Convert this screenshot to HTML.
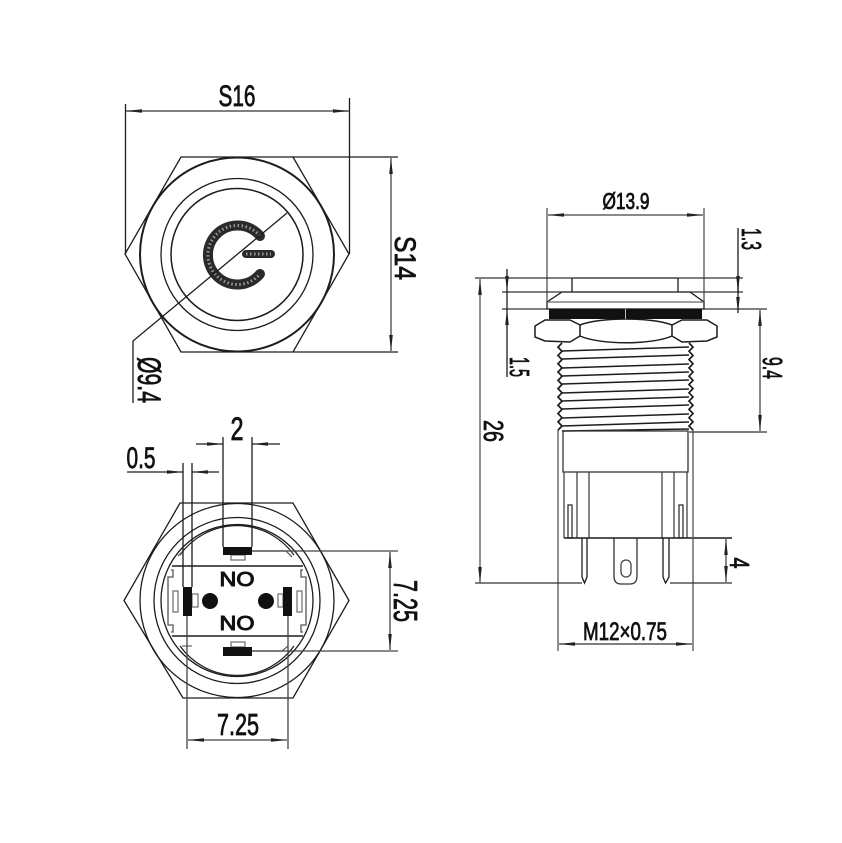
<!DOCTYPE html>
<html>
<head>
<meta charset="utf-8">
<style>
html,body{margin:0;padding:0;background:#fff;width:842px;height:843px;overflow:hidden}
svg{display:block;filter:blur(.35px)}
text{font-family:"Liberation Sans Narrow","Liberation Sans",sans-serif;fill:#111;stroke:#111;stroke-width:.8}
</style>
</head>
<body>
<svg width="842" height="843" viewBox="0 0 842 843" xmlns="http://www.w3.org/2000/svg">
<defs>
<marker id="a" viewBox="0 0 16 4" refX="16" refY="2" markerWidth="16" markerHeight="4" markerUnits="userSpaceOnUse" orient="auto-start-reverse"><path d="M0,0.2L16,2L0,3.8z" fill="#222"/></marker>
</defs>
<rect width="842" height="843" fill="#fff"/>

<g fill="none" stroke="#1c1c1c" stroke-width="1.3">
<!-- TOP VIEW -->
<path d="M125,254L181,157H293L349,254L293,352H181Z"/>
<circle cx="237" cy="254.5" r="97" stroke-width="2"/>
<circle cx="237" cy="254.5" r="76"/>
<circle cx="237" cy="254.5" r="66" stroke-width="1.5"/>
<path d="M260,236A29.5,29.5 0 1 0 260,274" stroke="#2a2a2a" stroke-width="10" stroke-linecap="round"/>
<path d="M260,236A29.500,29.500 0 1 0 260,274" stroke="#999" stroke-width="3" stroke-dasharray="1.500 2.500"/>
<path d="M246,254H271" stroke="#2a2a2a" stroke-width="8" stroke-linecap="round"/>
<path d="M246,254H271" stroke="#999" stroke-width="3" stroke-dasharray="1.500 2.500"/>
<path d="M287,213L133,341V403"/>
<path d="M125.500,104V254M349.500,98V254"/>
<path d="M126,111H349" stroke="#555" stroke-width="1.4" marker-start="url(#a)" marker-end="url(#a)"/>
<path d="M293,157H398M293,352H398"/>
<path d="M391,158V351" stroke="#444" marker-start="url(#a)" marker-end="url(#a)"/>

<!-- BOTTOM VIEW -->
<path d="M124,600.500L180,503H293L349,600.500L293,698H183Z"/>
<circle cx="237" cy="600.500" r="97"/>
<circle cx="237" cy="600.500" r="83"/>
<circle cx="237" cy="600.500" r="76"/>
<path d="M180,555A70,70 0 0 1 294,555M180,646A70,70 0 0 0 294,646" stroke-width="1.2"/>
<path d="M172,566H303M172,636H303" stroke-width="1.5"/>
<path d="M171,570H173V577H168V625H173V632H171M303,570H301V577H306V625H301V632H303" stroke="#555"/>
<rect x="173" y="591" width="5" height="21" stroke="#777"/>
<rect x="297" y="591" width="5" height="21" stroke="#777"/>
<rect x="192" y="594" width="6" height="13" stroke="#777"/>
<rect x="278" y="594" width="5" height="13" stroke="#777"/>
<rect x="231" y="555" width="14" height="5" stroke="#777"/>
<rect x="231" y="642" width="14" height="5" stroke="#777"/>
<path d="M252,551H286L292,557M252,651H282L288,646M182,646H192M178,556L183,551" stroke="#666"/>
<path d="M223,437V547M252,437V547"/>
<path d="M196,444H223" marker-end="url(#a)"/>
<path d="M280,444H252" marker-end="url(#a)"/>
<path d="M183,463V587M192,463V587"/>
<path d="M127,472H183" marker-end="url(#a)"/>
<path d="M219,472H192" marker-end="url(#a)"/>
<path d="M252,551H398M252,651H398" stroke="#444"/>
<path d="M390,552V650" stroke="#444" marker-start="url(#a)" marker-end="url(#a)"/>
<path d="M187,616V749M288,616V749" stroke="#444"/>
<path d="M188,740H287" stroke="#444" marker-start="url(#a)" marker-end="url(#a)"/>

<!-- SIDE VIEW -->
<path d="M572,292V279Q572,278 574,278H676Q678,278 678,279V292"/>
<path d="M562,292H690L704,302V309H547V302Z"/>
<path d="M547,302H704" stroke="#666"/>
<path d="M580,325L570,320H545L535,326V337L545,341L570,342L580,336Z" stroke-width="1.500"/>
<path d="M672,325L682,320H707L717,326V337L707,341L682,342L672,336Z" stroke-width="1.500"/>
<path d="M580,325C600,317 652,317 672,325M580,336C600,345 652,345 672,336" stroke-width="1.500"/>
<path d="M562,343l-4,4.150l4,4.150l-4,4.150l4,4.150l-4,4.150l4,4.150l-4,4.150l4,4.150l-4,4.150l4,4.150l-4,4.150l4,4.150l-4,4.150l4,4.150l-4,4.150l4,4.150l-4,4.150l4,4.150l-4,4.150l4,4.150l-4,4.150" stroke-width="1.700"/>
<path d="M689,343l4,4.150l-4,4.150l4,4.150l-4,4.150l4,4.150l-4,4.150l4,4.150l-4,4.150l4,4.150l-4,4.150l4,4.150l-4,4.150l4,4.150l-4,4.150l4,4.150l-4,4.150l4,4.150l-4,4.150l4,4.150l-4,4.150l4,4.150" stroke-width="1.700"/>
<path d="M562,351L689,347M562,359L689,355M562,368L689,364M562,376L689,372M562,384L689,380M562,393L689,389M562,401L689,397M562,409L689,405M562,418L689,414M562,426L689,422M562,431L689,429" stroke-width="1.400"/>
<path d="M563,431H688V472H563Z" stroke="#333"/>
<path d="M564,472V538M577,472V538M589,472V538M662,472V538M674,472V538M687,472V538" stroke="#444"/>
<rect x="568" y="505" width="4" height="33" stroke="#333"/>
<rect x="679" y="505" width="4" height="33" stroke="#333"/>
<path d="M564,538H732" stroke-width="1.400"/>
<path d="M582,538V577L584.500,583L587,577V538M663,538V577L665.500,583L669,577V538"/>
<path d="M614,538V576Q614,584 621,584H630Q637,584 637,576V538" stroke="#333"/>
<rect x="621" y="560" width="10" height="17" rx="5" stroke="#444"/>
<path d="M558,430V651M693,430V651" stroke="#555" stroke-width="1.300"/>
<path d="M559,644H692" stroke="#333" marker-start="url(#a)" marker-end="url(#a)"/>
<path d="M547,208V302M704,208V302" stroke="#555"/>
<path d="M548,215H703" stroke="#444" marker-start="url(#a)" marker-end="url(#a)"/>
<path d="M475,278H572M678,278H743M502,292H743M502,309H767M689,432H767" stroke="#333"/>
<path d="M475,583H582M670,583H732" stroke="#333"/>
<path d="M480,279V583" stroke="#555" marker-start="url(#a)" marker-end="url(#a)"/>
<path d="M507,269V292" marker-end="url(#a)"/>
<path d="M507,377V309" marker-end="url(#a)"/>
<path d="M507,292V309"/>
<path d="M738,228V292" marker-end="url(#a)"/>
<path d="M738,313V278" marker-start="url(#a)"/>
<path d="M760,310V431" stroke="#444" marker-start="url(#a)" marker-end="url(#a)"/>
<path d="M726,539V582" stroke="#444" marker-start="url(#a)" marker-end="url(#a)"/>
</g>

<!-- solid fills -->
<g fill="#111">
<rect x="223" y="547" width="29" height="8"/>
<rect x="223" y="647" width="29" height="9"/>
<rect x="183" y="587" width="9" height="29"/>
<rect x="283" y="587" width="9" height="29"/>
<circle cx="210" cy="601" r="8"/>
<circle cx="266" cy="601" r="8"/>
<rect x="549" y="309" width="153" height="10"/>
</g>
<rect x="625" y="309" width="1" height="10" fill="#bbb"/>

<!-- labels -->
<text x="237" y="106" font-size="30" text-anchor="middle" textLength="37" lengthAdjust="spacingAndGlyphs">S16</text>
<text transform="translate(395,258) rotate(90)" font-size="30" text-anchor="middle" textLength="44" lengthAdjust="spacingAndGlyphs">S14</text>
<text transform="translate(138,380) rotate(90)" font-size="32" text-anchor="middle" textLength="46" lengthAdjust="spacingAndGlyphs">Ø9.4</text>
<text x="237" y="440" font-size="32" text-anchor="middle" textLength="13" lengthAdjust="spacingAndGlyphs">2</text>
<text x="141" y="468" font-size="30" text-anchor="middle" textLength="29" lengthAdjust="spacingAndGlyphs">0.5</text>
<text x="237" y="586" font-size="20" text-anchor="middle" textLength="35" lengthAdjust="spacingAndGlyphs" style="font-family:'Liberation Sans',sans-serif;stroke-width:1">NO</text>
<text x="237" y="630" font-size="20" text-anchor="middle" textLength="35" lengthAdjust="spacingAndGlyphs" style="font-family:'Liberation Sans',sans-serif;stroke-width:1">NO</text>
<text transform="translate(394,601) rotate(90)" font-size="33" text-anchor="middle" textLength="42" lengthAdjust="spacingAndGlyphs">7.25</text>
<text x="238" y="735" font-size="31" text-anchor="middle" textLength="42" lengthAdjust="spacingAndGlyphs">7.25</text>
<text x="626" y="209" font-size="23" text-anchor="middle" textLength="47" lengthAdjust="spacingAndGlyphs">Ø13.9</text>
<text transform="translate(742,239) rotate(90)" font-size="28" text-anchor="middle" textLength="22" lengthAdjust="spacingAndGlyphs">1.3</text>
<text transform="translate(510,367) rotate(90)" font-size="28" text-anchor="middle" textLength="20" lengthAdjust="spacingAndGlyphs">1.5</text>
<text transform="translate(763,368) rotate(90)" font-size="28" text-anchor="middle" textLength="22" lengthAdjust="spacingAndGlyphs">9.4</text>
<text transform="translate(484,431) rotate(90)" font-size="28" text-anchor="middle" textLength="22" lengthAdjust="spacingAndGlyphs">26</text>
<text transform="translate(730,563) rotate(90)" font-size="28" text-anchor="middle" textLength="11" lengthAdjust="spacingAndGlyphs">4</text>
<text x="625" y="640" font-size="25" text-anchor="middle" textLength="84" lengthAdjust="spacingAndGlyphs">M12×0.75</text>
</svg>
</body>
</html>
